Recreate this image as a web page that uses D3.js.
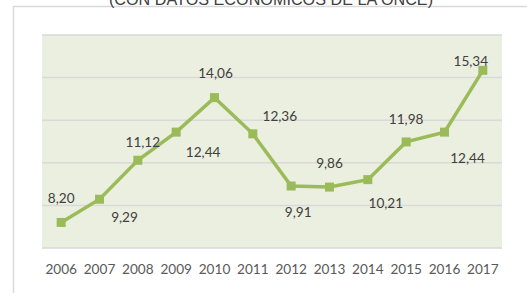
<!DOCTYPE html>
<html><head><meta charset="utf-8">
<script src="https://cdn.jsdelivr.net/npm/d3@7"></script>
<style>html,body{margin:0;padding:0;background:#fff;overflow:hidden}</style>
</head><body>
<svg id="chart" width="527" height="293"></svg>
<script>
const years = ["2006","2007","2008","2009","2010","2011","2012","2013","2014","2015","2016","2017"];
const values = [8.20, 9.29, 11.12, 12.44, 14.06, 12.36, 9.91, 9.86, 10.21, 11.98, 12.44, 15.34];
const gridTicks = [7, 9, 11, 13, 15, 17];
const titleText = "(CON DATOS ECONÓMICOS DE LA ONCE)";
// label offsets (layout only): dx, dy relative to point
const labelDx = [0, 25, 5, 27, 1, 27, 7, 0, 18, 0, 23, -12];
const labelDy = [-24, 18, -18, 20, -24, -18, 26, -24, 24, -23, 26, -9];

const svg = d3.select("#chart");
const font = "Lato, 'Open Sans', sans-serif";

// outer frame
svg.append("path").attr("d", "M13.5,300 L13.5,6.5 L540,6.5")
  .attr("fill","none").attr("stroke","#d9d9d9").attr("stroke-width",1.5);

svg.append("text").attr("x", 271).attr("y", 4.5)
  .attr("text-anchor","middle").attr("font-family","'Liberation Sans', Arial, sans-serif")
  .attr("font-size", 16.2).attr("fill","#404040").text(titleText);

const x = d3.scaleBand().domain(years).range([42, 502]);
const y = d3.scaleLinear().domain([7, 17]).range([248, 35]);

svg.append("rect").attr("x",42).attr("y",35).attr("width",460).attr("height",213).attr("fill","#ebefdf");

svg.append("g").selectAll("line").data(gridTicks).join("line")
  .attr("x1",42).attr("x2",502).attr("y1",d=>y(d)).attr("y2",d=>y(d))
  .attr("stroke","#d9d9d9").attr("stroke-width",1.5);

const xAxis = svg.append("g").attr("transform","translate(0,248)")
  .call(d3.axisBottom(x).tickSize(0).tickPadding(16));
xAxis.select(".domain").remove();
xAxis.selectAll("text").attr("font-family",font).attr("font-size",13.6).attr("fill","#595959");

const cx = d => x(d) + x.bandwidth()/2;
const line = d3.line().x((d,i)=>cx(years[i])).y(d=>y(d));
svg.append("path").datum(values).attr("d", line)
  .attr("fill","none").attr("stroke","#9bbb59").attr("stroke-width",3.5).attr("stroke-linejoin","miter");

svg.append("g").selectAll("rect").data(values).join("rect")
  .attr("x",(d,i)=>cx(years[i])-4.5).attr("y",d=>y(d)-4.5)
  .attr("width",9).attr("height",9).attr("fill","#9bbb59");

svg.append("g").selectAll("text").data(values).join("text")
  .attr("x",(d,i)=>cx(years[i])+labelDx[i]).attr("y",(d,i)=>y(d)+labelDy[i])
  .attr("dy","0.35em").attr("text-anchor","middle")
  .attr("font-family",font).attr("font-size",13.6).attr("fill","#404040")
  .text(d=>d.toFixed(2).replace(".",","));
</script>
</body></html>
